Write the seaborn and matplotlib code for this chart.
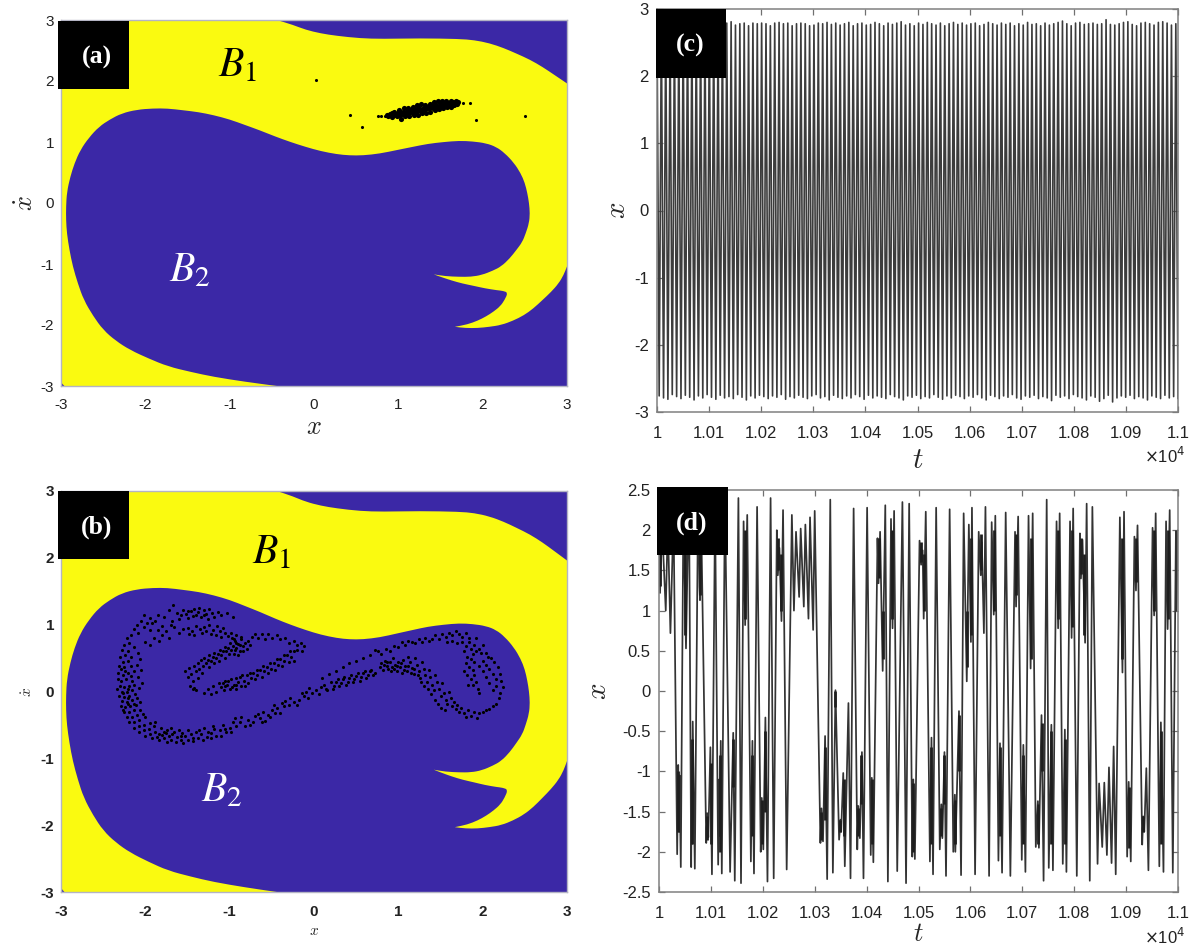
#!/usr/bin/env python3
"""
Basins of attraction with attractors (a, b) and the matching time series (c, d).
"""

import matplotlib
matplotlib.use("Agg")
import matplotlib.pyplot as plt
from matplotlib.patches import PathPatch, Rectangle
from matplotlib.path import Path
import numpy as np
import pandas as pd
import seaborn as sns

W, H = 1195, 949

# yellow basin outline, one closed walk round the region; a repeated point keeps a sharp corner
basin_outline = [
    (-3.0, 3.0), (-3.0, 3.0), (-0.44, 3.0), (-0.44, 3.0), (-0.25, 2.92), (-0.10, 2.84), (0.08, 2.78), (0.27, 2.74), (0.55, 2.70),
    (0.81, 2.69), (1.26, 2.70), (1.72, 2.69), (1.90, 2.67), (2.08, 2.62), (2.25, 2.54), (2.40, 2.45),
    (2.56, 2.35), (2.71, 2.23), (2.85, 2.10), (3.0, 1.96), (3.0, 1.96),
    (3.0, -1.04), (3.0, -1.04), (2.96, -1.18), (2.90, -1.32), (2.81, -1.46), (2.71, -1.59), (2.60, -1.73), (2.49, -1.84),
    (2.36, -1.93), (2.22, -2.0), (2.08, -2.03), (1.94, -2.05), (1.80, -2.05), (1.67, -2.03), (1.67, -2.03),
    (1.82, -1.99), (1.94, -1.93), (2.04, -1.86), (2.13, -1.78), (2.21, -1.69), (2.26, -1.59), (2.30, -1.47),
    (2.24, -1.44), (2.17, -1.43), (2.03, -1.40), (1.90, -1.36), (1.76, -1.32), (1.63, -1.27), (1.50, -1.21),
    (1.42, -1.17), (1.42, -1.17), (1.56, -1.20), (1.72, -1.21), (1.86, -1.21), (1.99, -1.18), (2.12, -1.11), (2.22, -1.04),
    (2.32, -0.91), (2.40, -0.77), (2.47, -0.64), (2.51, -0.50), (2.55, -0.33), (2.56, -0.17), (2.55, 0.0),
    (2.53, 0.16), (2.50, 0.33), (2.45, 0.49), (2.37, 0.66), (2.26, 0.82), (2.16, 0.92), (2.04, 0.98),
    (1.88, 1.01), (1.72, 1.02), (1.54, 1.00), (1.35, 0.97), (1.17, 0.92), (0.99, 0.87), (0.78, 0.81),
    (0.58, 0.78), (0.42, 0.78), (0.27, 0.80), (0.08, 0.85), (-0.10, 0.92), (-0.28, 1.0), (-0.46, 1.09),
    (-0.64, 1.19), (-0.82, 1.28), (-1.0, 1.37), (-1.19, 1.44), (-1.37, 1.49), (-1.55, 1.52), (-1.74, 1.55),
    (-1.91, 1.55), (-2.10, 1.53), (-2.28, 1.47), (-2.42, 1.37), (-2.55, 1.25), (-2.67, 1.07), (-2.77, 0.87),
    (-2.84, 0.65), (-2.89, 0.43), (-2.93, 0.18), (-2.94, -0.06), (-2.94, -0.28), (-2.93, -0.50), (-2.90, -0.77),
    (-2.86, -1.04), (-2.80, -1.32), (-2.73, -1.59), (-2.62, -1.85), (-2.50, -2.08), (-2.35, -2.26), (-2.18, -2.41),
    (-1.96, -2.55), (-1.73, -2.68), (-1.46, -2.77), (-1.19, -2.85), (-0.82, -2.93), (-0.44, -3.0), (-0.44, -3.0),
    (-2.96, -3.0), (-2.96, -3.0), (-3.0, -2.94), (-3.0, -2.94), (-3.0, 3.0),
]

# panel (a): stray points
a_strays = [
    (0.02, 2.02), (0.43, 1.44), (0.57, 1.24), (1.92, 1.36), (2.50, 1.42), (1.77, 1.64), (1.85, 1.64),
    (0.76, 1.42), (0.80, 1.42), (0.84, 1.43),
]
# panel (a): the tight cluster
a_cluster = [
    (0.88, 1.42), (0.90, 1.46), (0.92, 1.48), (0.93, 1.41), (0.96, 1.46), (0.95, 1.50), (0.98, 1.42),
    (1.00, 1.48), (1.01, 1.52), (1.02, 1.45), (1.03, 1.38), (1.05, 1.50), (1.06, 1.46), (1.07, 1.56),
    (1.08, 1.43), (1.10, 1.51), (1.11, 1.55), (1.12, 1.47), (1.13, 1.42), (1.15, 1.52), (1.16, 1.49),
    (1.17, 1.57), (1.18, 1.44), (1.20, 1.54), (1.21, 1.50), (1.22, 1.60), (1.23, 1.45), (1.25, 1.55),
    (1.26, 1.52), (1.27, 1.63), (1.28, 1.47), (1.30, 1.56), (1.31, 1.53), (1.32, 1.60), (1.33, 1.48),
    (1.35, 1.58), (1.36, 1.55), (1.37, 1.63), (1.38, 1.50), (1.40, 1.59), (1.41, 1.56), (1.42, 1.65),
    (1.43, 1.52), (1.45, 1.60), (1.46, 1.57), (1.47, 1.67), (1.48, 1.54), (1.50, 1.62), (1.51, 1.58),
    (1.52, 1.68), (1.53, 1.55), (1.55, 1.63), (1.56, 1.59), (1.57, 1.67), (1.58, 1.57), (1.60, 1.64),
    (1.61, 1.60), (1.62, 1.67), (1.63, 1.58), (1.65, 1.65), (1.66, 1.61), (1.68, 1.67), (1.69, 1.63),
    (1.71, 1.66), (0.87, 1.45), (0.97, 1.44), (1.04, 1.47), (1.09, 1.48), (1.14, 1.50), (1.19, 1.51),
    (1.24, 1.53), (1.29, 1.54), (1.34, 1.56), (1.39, 1.57), (1.44, 1.58), (1.49, 1.60), (1.54, 1.61),
    (1.59, 1.62), (1.64, 1.63), (1.12, 1.50), (1.22, 1.52), (1.32, 1.55), (1.42, 1.59), (1.52, 1.60),
]

# panel (b): attractor, read strand by strand
b_points = [
    # outer strand, top of the left lobe
    (-2.02, 1.14), (-1.95, 1.10), (-1.98, 1.03), (-2.05, 1.05), (-1.92, 1.02), (-1.85, 1.15), (-1.88, 1.06),
    (-1.78, 1.12), (-1.72, 1.22), (-1.67, 1.30), (-1.62, 1.18), (-1.58, 1.14), (-1.55, 1.22), (-1.52, 1.16),
    (-1.49, 1.10), (-1.46, 1.20), (-1.42, 1.24), (-1.40, 1.15), (-1.37, 1.19), (-1.34, 1.11), (-1.31, 1.22),
    (-1.28, 1.16), (-1.25, 1.23), (-1.21, 1.18), (-1.18, 1.12), (-1.14, 1.19), (-1.10, 1.14), (-1.03, 1.17),
    (-0.96, 1.12), (-1.50, 1.21), (-1.44, 1.13), (-1.36, 1.25), (-1.30, 1.14), (-1.26, 1.09), (-1.60, 1.08),
    (-1.68, 1.06), (-2.10, 1.00), (-2.14, 0.93), (-2.09, 0.88), (-2.01, 0.96), (-1.94, 0.92), (-2.17, 0.84),
    # second strand under it
    (-1.85, 0.92), (-1.80, 0.98), (-1.75, 0.90), (-1.70, 1.00), (-1.66, 0.96), (-1.60, 0.88), (-1.55, 0.94),
    (-1.50, 0.95), (-1.45, 0.90), (-1.40, 0.98), (-1.35, 0.93), (-1.30, 0.97), (-1.25, 1.00), (-1.20, 0.92),
    (-1.15, 0.98), (-1.12, 0.90), (-1.08, 0.95), (-1.05, 0.87), (-1.02, 0.83), (-0.98, 0.88), (-0.95, 0.78),
    (-0.92, 0.84), (-1.90, 0.80), (-1.84, 0.76), (-1.95, 0.70), (-1.80, 0.85), (-1.72, 0.80), (-2.00, 0.74),
    (-1.22, 0.86), (-1.16, 0.84), (-1.10, 0.82), (-1.28, 0.90), (-1.33, 0.87), (-1.42, 0.84), (-1.48, 0.86),
    # left side, thick band
    (-2.22, 0.80), (-2.25, 0.70), (-2.19, 0.72), (-2.28, 0.62), (-2.21, 0.60), (-2.14, 0.66), (-2.30, 0.52),
    (-2.24, 0.55), (-2.17, 0.52), (-2.27, 0.44), (-2.20, 0.45), (-2.31, 0.38), (-2.25, 0.36), (-2.17, 0.38),
    (-2.32, 0.28), (-2.27, 0.25), (-2.20, 0.28), (-2.13, 0.30), (-2.33, 0.18), (-2.29, 0.15), (-2.23, 0.18),
    (-2.16, 0.16), (-2.30, 0.08), (-2.25, 0.06), (-2.19, 0.08), (-2.34, 0.04), (-2.28, 0.00), (-2.22, -0.01),
    (-2.16, 0.02), (-2.31, -0.06), (-2.25, -0.08), (-2.19, -0.06), (-2.12, -0.03), (-2.28, -0.14), (-2.22, -0.15),
    (-2.16, -0.12), (-2.29, -0.22), (-2.24, -0.23), (-2.18, -0.22), (-2.11, -0.20), (-2.25, -0.31), (-2.19, -0.30),
    (-2.13, -0.28), (-2.06, -0.28), (-2.22, -0.38), (-2.16, -0.38), (-2.10, -0.35), (-2.03, -0.33), (-2.19, -0.46),
    (-2.13, -0.45), (-2.07, -0.43), (-2.00, -0.38), (-2.14, -0.54), (-2.08, -0.52), (-2.02, -0.50),
    (-2.09, 0.58), (-2.06, 0.48), (-2.10, 0.40), (-2.05, 0.32), (-2.09, 0.22), (-2.04, 0.12), (-2.08, 0.05),
    (-2.14, 0.10), (-2.20, -0.10), (-2.26, -0.02), (-2.21, 0.03), (-2.14, -0.18), (-2.21, -0.19), (-2.27, -0.27),
    (-2.10, -0.10), (-2.06, -0.16), (-2.17, 0.23), (-2.24, 0.30), (-2.29, 0.34),
    # bottom of left lobe
    (-2.08, -0.60), (-2.02, -0.58), (-1.96, -0.56), (-1.90, -0.52), (-2.00, -0.66), (-1.94, -0.63), (-1.88, -0.60),
    (-1.82, -0.55), (-1.92, -0.70), (-1.86, -0.68), (-1.80, -0.65), (-1.74, -0.58), (-1.84, -0.72), (-1.78, -0.70),
    (-1.72, -0.66), (-1.66, -0.60), (-1.74, -0.75), (-1.69, -0.72), (-1.63, -0.68), (-1.60, -0.58), (-1.64, -0.76),
    (-1.58, -0.73), (-1.53, -0.66), (-1.49, -0.58), (-1.55, -0.77), (-1.49, -0.72), (-1.44, -0.70), (-1.40, -0.60),
    (-1.44, -0.74), (-1.38, -0.70), (-1.34, -0.64), (-1.30, -0.55), (-1.32, -0.72), (-1.27, -0.68), (-1.22, -0.62),
    (-1.20, -0.52), (-1.22, -0.70), (-1.16, -0.66), (-1.12, -0.58), (-1.08, -0.50), (-1.10, -0.66), (-1.04, -0.60),
    (-1.00, -0.54), (-0.96, -0.46), (-0.98, -0.60), (-0.92, -0.52), (-0.88, -0.45), (-0.82, -0.52), (-0.78, -0.42),
    (-0.72, -0.46), (-0.70, -0.36), (-0.64, -0.40), (-0.60, -0.30), (-0.58, -0.44), (-0.55, -0.35), (-0.50, -0.28),
    (-0.48, -0.20), (-0.44, -0.25), (-0.40, -0.32), (-0.36, -0.22), (-0.30, -0.20), (-0.34, -0.14), (-0.24, -0.16),
    (-0.18, -0.12), (-0.12, -0.06), (-0.07, -0.10), (-0.02, -0.02), (0.02, 0.02), (-0.06, 0.05), (0.06, -0.04),
    (-1.95, -0.47), (-1.88, -0.46), (-1.78, -0.60), (-1.70, -0.55), (-1.68, -0.64), (-1.56, -0.62), (-1.46, -0.64),
    (-1.36, -0.58), (-1.26, -0.60), (-1.18, -0.56), (-1.06, -0.56), (-0.94, -0.40), (-0.86, -0.38), (-0.76, -0.50),
    (-0.66, -0.34), (-0.62, -0.46), (-0.52, -0.38), (-0.46, -0.32), (-0.38, -0.17), (-0.28, -0.10), (-0.20, -0.20),
    (-0.14, -0.02), (-0.09, 0.00), (-1.58, -0.66), (-1.76, -0.62), (-1.84, -0.64),
    # inner arm, upper leg
    (-1.53, 0.30), (-1.50, 0.22), (-1.48, 0.35), (-1.46, 0.26), (-1.44, 0.15), (-1.42, 0.38), (-1.40, 0.30),
    (-1.38, 0.42), (-1.36, 0.33), (-1.34, 0.47), (-1.32, 0.38), (-1.30, 0.50), (-1.28, 0.42), (-1.26, 0.47),
    (-1.24, 0.54), (-1.22, 0.45), (-1.20, 0.52), (-1.18, 0.58), (-1.16, 0.50), (-1.14, 0.56), (-1.12, 0.62),
    (-1.10, 0.55), (-1.08, 0.60), (-1.06, 0.67), (-1.04, 0.60), (-1.02, 0.65), (-1.00, 0.72), (-0.98, 0.62),
    (-0.96, 0.68), (-0.94, 0.75), (-0.92, 0.65), (-0.90, 0.71), (-0.88, 0.60), (-0.86, 0.78), (-0.84, 0.68),
    (-0.82, 0.73), (-0.80, 0.63), (-0.78, 0.76), (-0.76, 0.70), (-0.92, 0.73), (-0.97, 0.80), (-0.87, 0.82),
    (-0.74, 0.82), (-0.70, 0.86), (-0.66, 0.80), (-0.62, 0.86), (-0.58, 0.78), (-0.54, 0.86), (-0.50, 0.80),
    (-0.44, 0.84), (-0.40, 0.78), (-0.34, 0.80), (-0.30, 0.72), (-0.24, 0.76), (-0.20, 0.70), (-0.16, 0.73),
    (-0.12, 0.68), (-0.20, 0.62), (-0.14, 0.60), (-0.24, 0.60), (-1.47, 0.08), (-1.44, 0.04), (-0.94, 0.62),
    (-0.88, 0.70), (-0.84, 0.60), (-0.95, 0.56), (-0.90, 0.54), (-1.01, 0.56), (-1.06, 0.50), (-1.13, 0.46),
    (-1.19, 0.42), (-1.25, 0.36), (-1.33, 0.28), (-1.38, 0.20),
    # inner arm, lower leg
    (-1.42, 0.05), (-1.40, 0.02), (-1.30, -0.02), (-1.26, 0.04), (-1.22, -0.03), (-1.20, 0.08), (-1.16, 0.00),
    (-1.13, 0.12), (-1.10, 0.06), (-1.07, 0.02), (-1.05, 0.16), (-1.03, 0.09), (-1.00, 0.04), (-0.98, 0.18),
    (-0.95, 0.10), (-0.93, 0.03), (-0.90, 0.14), (-0.88, 0.22), (-0.86, 0.08), (-0.83, 0.16), (-0.80, 0.24),
    (-0.78, 0.12), (-0.75, 0.20), (-0.72, 0.28), (-0.70, 0.18), (-0.67, 0.25), (-0.64, 0.32), (-0.62, 0.22),
    (-0.59, 0.30), (-0.56, 0.36), (-0.54, 0.27), (-0.51, 0.34), (-0.48, 0.42), (-0.46, 0.32), (-0.43, 0.40),
    (-0.40, 0.48), (-0.38, 0.38), (-0.35, 0.46), (-0.32, 0.55), (-0.30, 0.44), (-0.27, 0.52), (-0.24, 0.46),
    (-1.08, 0.13), (-1.02, 0.15), (-0.97, 0.06), (-0.92, 0.20), (-0.85, 0.25), (-0.92, 0.10), (-1.05, 0.08),
    (-0.82, 0.08), (-0.76, 0.27), (-0.68, 0.32), (-0.60, 0.38), (-0.52, 0.42), (-0.44, 0.48), (-0.36, 0.55),
    (-0.28, 0.60),
    # middle crossing toward the right lobe
    (0.08, 0.06), (0.12, 0.10), (0.16, 0.02), (0.20, 0.14), (0.24, 0.08), (0.28, 0.18), (0.32, 0.12),
    (0.36, 0.22), (0.40, 0.14), (0.44, 0.24), (0.48, 0.18), (0.52, 0.28), (0.56, 0.22), (0.60, 0.30),
    (0.64, 0.24), (0.68, 0.32), (0.72, 0.28), (0.10, 0.20), (0.18, 0.26), (0.26, 0.30), (0.34, 0.36),
    (0.42, 0.42), (0.50, 0.46), (0.58, 0.50), (0.66, 0.55), (0.72, 0.62), (0.14, 0.04), (0.22, 0.03),
    (0.30, 0.08), (0.38, 0.10), (0.46, 0.14), (0.54, 0.16), (0.62, 0.20), (0.70, 0.24), (0.26, 0.14),
    (0.34, 0.18), (0.42, 0.20), (0.50, 0.23), (0.58, 0.27), (0.66, 0.30),
    # right lobe, lower band with the cluster at x near 1
    (0.78, 0.36), (0.80, 0.42), (0.82, 0.32), (0.84, 0.46), (0.86, 0.38), (0.88, 0.33), (0.90, 0.44),
    (0.92, 0.36), (0.94, 0.50), (0.96, 0.40), (0.98, 0.30), (1.00, 0.44), (1.02, 0.36), (1.04, 0.28),
    (1.06, 0.47), (1.08, 0.38), (1.10, 0.30), (1.12, 0.52), (1.14, 0.44), (1.16, 0.35), (1.18, 0.26),
    (1.20, 0.50), (1.22, 0.40), (1.24, 0.30), (1.26, 0.20), (1.28, 0.44), (1.30, 0.34), (1.32, 0.24),
    (1.34, 0.14), (1.36, 0.32), (1.38, 0.22), (1.40, 0.10), (1.42, 0.02), (1.44, 0.24), (1.46, 0.14),
    (1.48, 0.04), (1.50, -0.06), (1.52, 0.12), (1.54, -0.02), (1.56, -0.12), (1.58, -0.18), (1.60, 0.00),
    (1.62, -0.10), (1.64, -0.22), (1.66, -0.16), (1.68, -0.26), (1.70, -0.20), (1.72, -0.30), (1.74, -0.24),
    (1.78, -0.32), (1.80, -0.38), (1.83, -0.28), (1.86, -0.36), (1.90, -0.30), (1.93, -0.40), (1.96, -0.32),
    (2.00, -0.30), (2.04, -0.28), (2.08, -0.26), (2.12, -0.22), (2.16, -0.18), (2.19, -0.10), (0.83, 0.40),
    (0.87, 0.44), (0.91, 0.30), (0.95, 0.34), (0.99, 0.38), (1.03, 0.42), (1.07, 0.32), (1.11, 0.38),
    (1.15, 0.28), (1.19, 0.34), (1.23, 0.24), (1.27, 0.14), (1.31, 0.08), (1.35, 0.04), (1.39, -0.04),
    (1.43, -0.12), (1.47, -0.18), (1.51, -0.24), (1.55, -0.27),
    # right lobe, top strand and inner coil
    (0.76, 0.60), (0.80, 0.56), (0.85, 0.64), (0.90, 0.60), (0.95, 0.68), (1.00, 0.66), (1.04, 0.74),
    (1.08, 0.70), (1.12, 0.76), (1.16, 0.74), (1.20, 0.72), (1.24, 0.78), (1.28, 0.74), (1.32, 0.80),
    (1.36, 0.76), (1.40, 0.78), (1.44, 0.84), (1.48, 0.78), (1.52, 0.86), (1.56, 0.82), (1.60, 0.88),
    (1.64, 0.84), (1.68, 0.90), (1.72, 0.86), (1.76, 0.82), (1.80, 0.88), (1.58, 0.74), (1.64, 0.76),
    (1.70, 0.72), (1.76, 0.74), (1.80, 0.68), (1.84, 0.74), (1.86, 0.64), (1.90, 0.70), (1.88, 0.56),
    (1.92, 0.60), (1.86, 0.48), (1.90, 0.44), (1.84, 0.36), (1.88, 0.32), (1.82, 0.24), (1.86, 0.18),
    (1.90, 0.24), (1.88, 0.10), (1.92, 0.14), (1.94, 0.04), (1.96, -0.02), (2.00, 0.70), (1.98, 0.58),
    (2.04, 0.58), (2.06, 0.52), (2.00, 0.46), (2.10, 0.50), (2.04, 0.40), (2.14, 0.44), (2.08, 0.34),
    (2.18, 0.36), (2.12, 0.26), (2.20, 0.26), (2.16, 0.18), (2.22, 0.16), (2.16, 0.08), (2.24, 0.06),
    (2.20, -0.02), (2.12, 0.02), (2.08, 0.12), (2.04, 0.22), (2.00, 0.30), (1.96, 0.38), (1.84, 0.80),
    (1.92, 0.80), (1.96, 0.64), (1.78, 0.60), (1.82, 0.52), (1.80, 0.42), (1.78, 0.30), (1.83, 0.10),
]

# panel (c): crest and trough heights of the fast oscillation
c_upper = [
    2.78, 2.82, 2.79, 2.75, 2.74, 2.77, 2.81, 2.82, 2.75, 2.73, 2.79, 2.79, 2.80, 2.79, 2.76, 2.77,
    2.79, 2.81, 2.76, 2.78, 2.79, 2.75, 2.79, 2.78, 2.79, 2.78, 2.75, 2.79, 2.80, 2.78, 2.79, 2.75,
    2.78, 2.79, 2.78, 2.75, 2.76, 2.79, 2.78, 2.80, 2.77, 2.79, 2.76, 2.78, 2.80, 2.75, 2.78, 2.79,
    2.76, 2.77, 2.80, 2.78, 2.75, 2.79, 2.77, 2.79, 2.81, 2.76, 2.78, 2.75, 2.79, 2.77, 2.80, 2.78,
    2.76, 2.79, 2.75, 2.78, 2.80, 2.77, 2.79, 2.76, 2.78, 2.79, 2.75, 2.77, 2.80, 2.78, 2.76, 2.79,
    2.77, 2.79, 2.75, 2.78, 2.76, 2.80, 2.77, 2.78, 2.75, 2.79, 2.76, 2.78, 2.80, 2.82, 2.78, 2.75,
    2.79, 2.80, 2.77, 2.78, 2.79, 2.77, 2.78, 2.84, 2.77, 2.76, 2.78, 2.80, 2.81, 2.77, 2.75, 2.79,
    2.80, 2.78, 2.76, 2.80, 2.81, 2.79, 2.76, 2.78,
]
c_lower = [
    -2.76, -2.79, -2.81, -2.74, -2.77, -2.80, -2.75, -2.78, -2.82, -2.76, -2.79, -2.74, -2.78, -2.81, -2.75, -2.79,
    -2.77, -2.80, -2.74, -2.78, -2.82, -2.76, -2.79, -2.75, -2.77, -2.80, -2.76, -2.78, -2.74, -2.81, -2.77, -2.79,
    -2.75, -2.78, -2.80, -2.76, -2.74, -2.79, -2.77, -2.82, -2.75, -2.78, -2.80, -2.76, -2.79, -2.74, -2.77, -2.81,
    -2.75, -2.79, -2.76, -2.78, -2.80, -2.74, -2.77, -2.79, -2.82, -2.76, -2.78, -2.75, -2.80, -2.77, -2.79, -2.74,
    -2.78, -2.81, -2.76, -2.79, -2.75, -2.77, -2.80, -2.76, -2.78, -2.74, -2.79, -2.82, -2.75, -2.77, -2.80, -2.76,
    -2.78, -2.74, -2.79, -2.81, -2.76, -2.78, -2.75, -2.80, -2.77, -2.79, -2.83, -2.75, -2.78, -2.76, -2.80, -2.74,
    -2.77, -2.79, -2.82, -2.76, -2.78, -2.84, -2.80, -2.75, -2.85, -2.79, -2.76, -2.78, -2.75, -2.80, -2.77, -2.79,
    -2.82, -2.76, -2.78, -2.80, -2.75, -2.79, -2.77, -2.80,
]

# panel (d): turning points of the chaotic trace
d_t = [
    10000, 10002, 10006, 10013, 10017, 10022, 10028, 10035, 10037, 10038.5, 10039.5, 10042, 10047, 10052, 10055, 10058,
    10062, 10063, 10064, 10065, 10069, 10075, 10077, 10078, 10079, 10081, 10091, 10093, 10095, 10099, 10102, 10108,
    10114, 10116, 10117, 10119, 10121, 10127, 10137, 10143, 10146, 10153, 10158, 10163, 10166, 10170, 10177, 10180,
    10183, 10189, 10196, 10198, 10201, 10205, 10209, 10215, 10221, 10227, 10229, 10232, 10236, 10239, 10246, 10256,
    10260, 10264, 10270, 10273, 10279, 10282, 10288, 10291, 10297, 10300, 10311, 10313, 10316, 10320, 10324, 10330,
    10335, 10340, 10347, 10350, 10351, 10355, 10358, 10365, 10369, 10375, 10382, 10384, 10387, 10391, 10394, 10401,
    10408, 10410, 10413, 10421, 10423, 10426, 10431, 10436, 10441, 10447, 10450, 10453, 10459, 10469, 10476, 10482,
    10488, 10490, 10493, 10502, 10505, 10508, 10510, 10514, 10522, 10525, 10528, 10534, 10541, 10544, 10546, 10550,
    10553, 10560, 10567, 10570, 10571, 10578, 10582, 10587, 10593, 10597, 10601, 10603, 10609, 10616, 10620, 10622,
    10626, 10629, 10636, 10641, 10645, 10648, 10654, 10657, 10661, 10668, 10677, 10686, 10688, 10692, 10699, 10702,
    10706, 10712, 10716, 10720, 10726, 10730, 10732, 10737, 10741, 10747, 10751, 10756, 10759, 10766, 10769, 10772,
    10778, 10782, 10785, 10792, 10795, 10798, 10805, 10811, 10813, 10816, 10821, 10824, 10830, 10835, 10845, 10848,
    10854, 10858, 10863, 10867, 10872, 10876, 10880, 10888, 10893, 10896, 10902, 10905, 10909, 10916, 10919, 10922,
    10931, 10933, 10935, 10939, 10943, 10951, 10954, 10957, 10964, 10967, 10972, 10977, 10980, 10984, 10990, 10996,
    10997, 11000,
]
d_x = [
    1.75, 1.22, 2.05, 1.00, 2.10, 0.72, 2.20, -2.03, -0.92, -1.75, -1.05, -2.19, 2.25, 0.53, 1.60, 2.30,
    -2.19, -1.00, -1.90, -0.38, -2.21, 2.20, 1.90, 1.30, 1.13, 2.25, -1.89, -1.52, -1.82, -0.70, -2.28, 2.30,
    -2.16, -1.10, -1.80, -0.62, -2.27, 2.40, -2.25, -0.52, -2.36, 2.40, -2.39, 2.11, 0.82, 2.19, -2.12, -0.62,
    -2.27, 2.29, -2.00, -1.33, -1.97, -0.33, -2.37, 2.40, -2.33, 2.00, 1.44, 1.78, 0.87, 2.25, -2.22, 2.19,
    1.00, 1.98, 1.17, 2.02, 1.05, 2.07, 0.90, 2.16, 0.76, 2.24, -1.89, -1.46, -1.87, -0.56, -2.34, 2.38,
    -2.26, 0.01, -1.85, -1.60, -1.75, -1.02, -2.18, -0.15, -2.33, 2.27, -1.97, -1.43, -1.83, -0.76, -2.33, 2.28,
    -2.04, -1.08, -2.13, 1.90, 1.34, 1.98, 0.25, 2.31, -2.37, 2.14, 0.78, 2.24, -2.24, 2.35, -2.39, 2.33,
    -2.06, -1.10, -2.09, 1.87, 1.57, 1.75, 0.90, 2.23, -2.12, -0.58, -2.28, 2.28, -1.97, -1.41, -1.83, -0.76,
    -2.30, 2.26, -2.00, -1.29, -2.00, -0.25, -2.29, 2.21, 0.12, 2.07, 0.61, 2.28, -2.28, 1.98, 1.44, 1.85,
    0.72, 2.29, -2.30, 2.10, 0.95, 2.18, -2.11, -0.65, -2.26, 2.22, -2.30, 1.98, 1.05, 2.17, -2.10, -0.67,
    -2.25, 2.18, 0.28, 2.21, -1.94, -1.37, -1.95, -0.30, -2.36, 2.38, -2.20, -0.42, -2.23, 2.11, 0.78, 2.21,
    -2.15, -0.48, -2.25, 2.11, 0.66, 2.27, -2.30, 1.96, 1.40, 1.88, 0.60, 2.33, -2.36, 2.29, -2.15, -1.15,
    -1.94, -1.14, -2.04, -0.95, -2.14, -0.69, -2.28, 2.16, 0.23, 2.23, -2.06, -1.13, -2.12, 1.92, 1.25, 2.06,
    -1.91, -1.56, -1.75, -0.96, -2.23, 2.03, 0.94, 2.21, -2.18, -0.39, -2.25, 2.11, 0.77, 2.25, -2.26, 1.99,
    1.00, 2.00,
]
# panel (d): where the oscillation is too fast to resolve and the trace reads as a dark bar
d_band_t = [
    10002, 10037, 10050, 10064, 10079, 10092, 10100, 10117, 10142, 10166, 10180, 10198, 10205, 10230, 10236,
    10313, 10320, 10340, 10348, 10356, 10384, 10390, 10410, 10423, 10432, 10449, 10490, 10505, 10510, 10525,
    10544, 10550, 10570, 10578, 10593, 10601, 10620, 10645, 10657, 10688, 10702, 10716, 10730, 10737, 10755,
    10768, 10782, 10795, 10813, 10819, 10893, 10905, 10919, 10933, 10954, 10967, 10980,
]
d_band_lo = [
    1.30, -1.75, 0.70, -1.90, 1.20, -1.85, -1.90, -2.00, -1.20, 0.90, -1.80, -1.90, -1.50, 1.50, 1.00,
    -1.85, -1.60, -0.20, -1.75, -1.80, -1.80, -1.40, -1.90, 1.40, 0.40, 0.90, -2.00, 1.60, 1.00, -1.90,
    -1.80, -1.40, -1.90, -1.00, 0.30, 0.70, 1.50, 1.00, -1.80, 1.20, -1.90, 0.40, -1.90, -1.00, -1.90,
    0.90, -1.90, 0.80, 1.45, 0.70, 0.40, -1.95, 1.35, -1.75, 1.00, -1.90, 0.90,
]
d_band_hi = [
    1.75, -1.00, 1.80, -0.60, 1.80, -1.55, -0.90, -0.80, -0.60, 2.00, -0.80, -1.35, -0.50, 1.90, 1.70,
    -1.50, -0.70, 0.00, -1.60, -1.10, -1.45, -0.80, -1.10, 1.90, 1.00, 2.00, -1.15, 1.85, 1.70, -0.70,
    -1.45, -0.80, -1.35, -0.30, 1.00, 1.90, 1.95, 2.00, -0.70, 1.95, -0.80, 1.90, -1.40, -0.40, -0.50,
    2.00, -0.60, 2.00, 1.90, 1.70, 1.90, -1.20, 1.90, -1.55, 2.00, -0.50, 2.00,
]

t_ticks = [10000, 10100, 10200, 10300, 10400, 10500, 10600, 10700, 10800, 10900, 11000]
t_tick_labels = ["1", "1.01", "1.02", "1.03", "1.04", "1.05", "1.06", "1.07", "1.08", "1.09", "1.1"]
c_yticks = [-3, -2, -1, 0, 1, 2, 3]
d_yticks = [-2.5, -2, -1.5, -1, -0.5, 0, 0.5, 1, 1.5, 2, 2.5]
d_ylabels = ["-2.5", "-2", "-1.5", "-1", "-0.5", "0", "0.5", "1", "1.5", "2", "2.5"]
basin_ticks = [-3, -2, -1, 0, 1, 2, 3]

YELLOW = "#FAFA10"
BLUE = "#3B28A6"
TEXT = "#222222"


def axes_at(fig, left, top, right, bottom):
    return fig.add_axes([left / W, 1 - bottom / H, (right - left) / W, (bottom - top) / H])


def badge(fig, left, top, right, bottom, label, dx):
    fig.add_artist(Rectangle((left / W, 1 - bottom / H), (right - left) / W, (bottom - top) / H,
                             transform=fig.transFigure, facecolor="black", edgecolor="none"))
    fig.text(((left + right) / 2 + dx) / W, 1 - ((top + bottom) / 2 + 2) / H, label, color="white", ha="center",
             va="center", fontsize=18.5, fontweight="bold", family="Liberation Serif")


def basin_shape():
    # read points act as curve controls, so the outline stays smooth between them
    verts = [basin_outline[0]]
    codes = [Path.MOVETO]
    for p, q in zip(basin_outline[1:-1], basin_outline[2:]):
        verts += [p, ((p[0] + q[0]) / 2, (p[1] + q[1]) / 2)]
        codes += [Path.CURVE3, Path.CURVE3]
    return Path(verts, codes)


def add_points(ax, points, s):
    df = pd.DataFrame(points, columns=["x", "xdot"])
    sns.scatterplot(ax=ax, data=df, x="x", y="xdot", s=s, color="black", linewidth=0, legend=False)


def basin_panel(ax, bold, b1_at, b2_at):
    ax.set_facecolor(BLUE)
    ax.add_patch(PathPatch(basin_shape(), facecolor=YELLOW, edgecolor="none"))
    ax.set_xlim(-3, 3)
    ax.set_ylim(-3, 3)
    ax.set_xticks(basin_ticks)
    ax.set_yticks(basin_ticks)
    ax.set_xticklabels([str(v) for v in basin_ticks], fontweight=bold)
    ax.set_yticklabels([str(v) for v in basin_ticks], fontweight=bold)
    ax.tick_params(length=0, labelsize=11, colors=TEXT)
    ax.tick_params(axis="x", pad=9)
    ax.tick_params(axis="y", pad=5)
    for spine in ax.spines.values():
        spine.set_color("#b4b4c4")
        spine.set_linewidth(1.0)
    ax.text(*b1_at, "$B_1$", fontsize=30, color="black", ha="center", va="center", math_fontfamily="stix")
    ax.text(*b2_at, "$B_2$", fontsize=30, color="white", ha="center", va="center", math_fontfamily="stix")


def trace_panel(ax, t, x, yticks, ylabels, ylim, color, width):
    sns.lineplot(ax=ax, x=t, y=x, color=color, linewidth=width, estimator=None, sort=False, errorbar=None)
    ax.set_xlim(10000, 11000)
    ax.set_ylim(*ylim)
    ax.set_xticks(t_ticks)
    ax.set_xticklabels(t_tick_labels)
    ax.set_yticks(yticks)
    ax.set_yticklabels(ylabels)
    ax.tick_params(direction="in", length=4, width=0.9, color="#707070", labelcolor=TEXT,
                   labelsize=12, top=True, right=True, bottom=True, left=True)
    ax.tick_params(axis="x", pad=10)
    ax.tick_params(axis="y", pad=6)
    for spine in ax.spines.values():
        spine.set_color("#808080")
        spine.set_linewidth(1.1)


def main():
    sns.set_theme(style="white")
    plt.rcParams["font.family"] = ["Liberation Sans", "DejaVu Sans"]
    plt.rcParams["mathtext.fontset"] = "cm"

    fig = plt.figure(figsize=(W / 100, H / 100), dpi=100, facecolor="white")

    ax_a = axes_at(fig, 61, 20, 567, 386)
    basin_panel(ax_a, "normal", (-0.9, 2.26), (-1.47, -1.1))
    add_points(ax_a, a_strays, 5)
    add_points(ax_a, a_cluster, 14)
    ax_a.set_xlabel("$x$", fontsize=19, labelpad=2)
    ax_a.set_ylabel(r"$\dot{x}$", fontsize=19, labelpad=2)

    ax_b = axes_at(fig, 61, 491, 567, 892)
    basin_panel(ax_b, "bold", (-0.5, 2.09), (-1.09, -1.48))
    add_points(ax_b, b_points, 5)
    ax_b.set_xlabel("$x$", fontsize=11, labelpad=4)
    ax_b.set_ylabel(r"$\dot{x}$", fontsize=11, labelpad=4)

    # crests and troughs alternate at an even sampling of the window
    c_x = np.ravel(np.column_stack([c_upper, c_lower]))
    c_t = np.linspace(10000, 11000, len(c_x))
    ax_c = axes_at(fig, 657, 9, 1178, 412)
    trace_panel(ax_c, c_t, c_x, c_yticks, [str(v) for v in c_yticks], (-3, 3), "#3c3c3c", 1.2)
    ax_c.set_xlabel("$t$", fontsize=21, labelpad=4)
    ax_c.set_ylabel("$x$", fontsize=21, labelpad=2)

    ax_d = axes_at(fig, 659, 490, 1178, 892)
    trace_panel(ax_d, d_t, d_x, d_yticks, d_ylabels, (-2.5, 2.5), "#333333", 1.25)
    ax_d.vlines(d_band_t, d_band_lo, d_band_hi, colors="#1e1e1e", linewidth=2.0)
    ax_d.set_xlabel("$t$", fontsize=19, labelpad=1)
    ax_d.set_ylabel("$x$", fontsize=21, labelpad=7)

    for y_px in (456, 937):
        fig.text(1165 / W, 1 - y_px / H, r"$\times$10$^{4}$", fontsize=12, color=TEXT, ha="center", va="center",
                 math_fontfamily="dejavusans")

    badge(fig, 58, 21, 129, 89, "(a)", 3)
    badge(fig, 58, 491, 129, 559, "(b)", 3)
    badge(fig, 656, 9, 726, 78, "(c)", -1)
    badge(fig, 657, 487, 728, 555, "(d)", -1)

    fig.savefig("out.png", dpi=100)


if __name__ == "__main__":
    main()
